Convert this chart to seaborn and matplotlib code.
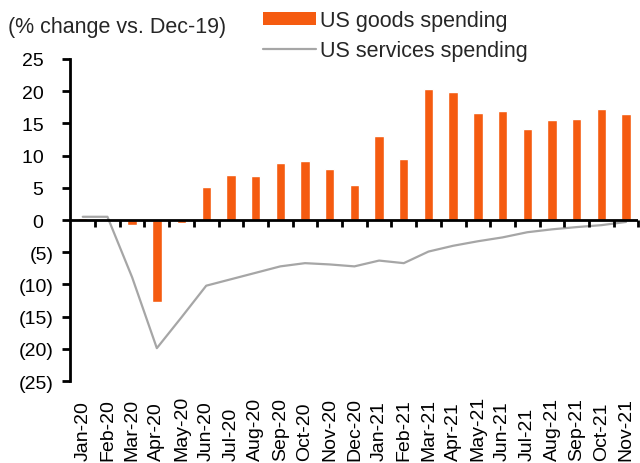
import numpy as np
import pandas as pd
import seaborn as sns
import matplotlib
matplotlib.use("Agg")
import matplotlib.pyplot as plt
from matplotlib.patches import Patch
from matplotlib.lines import Line2D

# data
months = ['Jan-20', 'Feb-20', 'Mar-20', 'Apr-20', 'May-20', 'Jun-20', 'Jul-20',
          'Aug-20', 'Sep-20', 'Oct-20', 'Nov-20', 'Dec-20', 'Jan-21', 'Feb-21',
          'Mar-21', 'Apr-21', 'May-21', 'Jun-21', 'Jul-21', 'Aug-21', 'Sep-21',
          'Oct-21', 'Nov-21']
goods = [0.3, 0.2, -0.7, -12.8, -0.4, 5.2, 7.0, 6.9, 8.9, 9.2, 7.9, 5.5,
         13.1, 9.4, 20.3, 19.8, 16.6, 17.0, 14.2, 15.6, 15.7, 17.3, 16.4]
services = [0.5, 0.5, -8.9, -19.9, -15.1, -10.2, -9.2, -8.2, -7.2, -6.7, -6.9,
            -7.2, -6.3, -6.7, -4.9, -4.0, -3.3, -2.7, -1.9, -1.45, -1.1, -0.8, -0.3]
yticks = [-25, -20, -15, -10, -5, 0, 5, 10, 15, 20, 25]

orange = '#F55B10'
grey = '#A6A6A6'

sns.set_style('white')
plt.rcParams['font.family'] = ['Liberation Sans', 'DejaVu Sans']

df = pd.DataFrame({'month': months, 'goods': goods, 'services': services})
df['pos'] = np.arange(len(df))

fig = plt.figure(figsize=(6.4, 4.64), dpi=100)
ax = fig.add_axes([0.110, 0.1767, 0.8875, 0.694])

sns.barplot(data=df, x='month', y='goods', color=orange, width=0.38,
            saturation=1, ax=ax, zorder=2)
sns.lineplot(data=df, x='pos', y='services', color=grey, linewidth=1.6,
             ax=ax, zorder=3)

n = len(months)
ax.set_xlim(-0.5, n - 0.5)
ax.set_ylim(-25, 25)
ax.set_xlabel('')
ax.set_ylabel('')

# y axis: excel style negatives in brackets
def fmt(v):
    return f'({abs(v)})' if v < 0 else f'{v}\u2002'
ax.set_yticks(yticks)
ax.set_yticklabels([fmt(v) for v in yticks])
ax.tick_params(axis='y', direction='out', length=6, width=2, pad=6,
               labelsize=14, colors='black', left=True)

for s in ['top', 'right', 'bottom']:
    ax.spines[s].set_visible(False)
ax.spines['left'].set_color('black')
ax.spines['left'].set_linewidth(2)

# month labels along the bottom, rotated, bottoms aligned
ax.set_xticks(np.arange(n))
ax.set_xticklabels(months, rotation=90, va='bottom', ha='center')
ax.tick_params(axis='x', length=0, pad=57, labelsize=14, colors='black')

# zero line with small marks at the category boundaries
ax.axhline(0, color='black', linewidth=2, zorder=4)
bounds = np.arange(n) + 0.5
tick_len = 50 * 7 / 322  # ~7 px in data units
ax.vlines(bounds, -tick_len, 0, color='black', linewidth=2, zorder=5,
          clip_on=False)

fig.text(8 / 640, 1 - 27 / 464, '(% change vs. Dec-19)', fontsize=15.5,
         va='center', ha='left')

handles = [Patch(facecolor=orange, edgecolor='none'),
           Line2D([], [], color=grey, linewidth=1.6)]
fig.legend(handles, ['US goods spending', 'US services spending'],
           loc='upper left', bbox_to_anchor=(263 / 640, 0.976), frameon=False,
           fontsize=15.5, borderpad=0, borderaxespad=0, handlelength=2.45,
           handleheight=0.5, handletextpad=0.2, labelspacing=0.4)

fig.savefig('out.png', dpi=100)
